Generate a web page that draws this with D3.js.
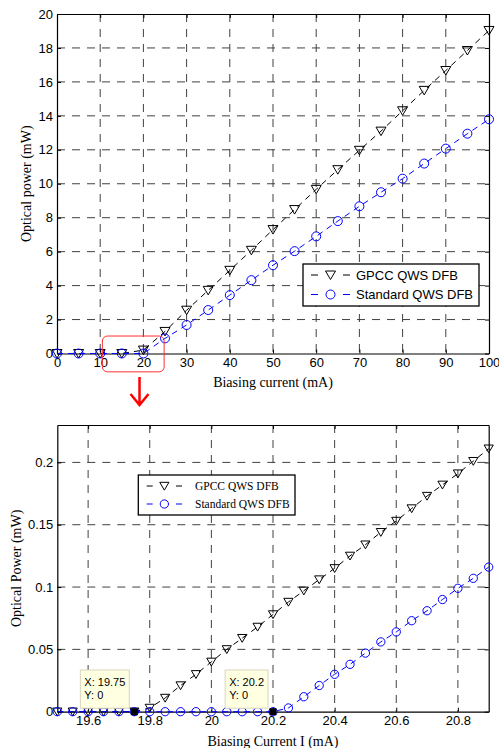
<!DOCTYPE html>
<meta charset="utf-8">
<style>
body { margin: 0; background: #fff; }
.tick text { font: 13px "Liberation Sans", Arial, sans-serif; fill: #000; }
.axis path, .axis line { stroke: #000; }
.grid line { stroke: #404040; stroke-dasharray: 8,7; }
</style>
<svg width="499" height="748"></svg>
<script src="https://d3js.org/d3.v7.min.js"></script>
<script>
// top panel: 0..100 mA
var topCurrent = [0, 5, 10, 15, 20, 25, 30, 35, 40, 45, 50, 55, 60, 65, 70, 75, 80, 85, 90, 95, 100];
var topGpcc = [0, 0, 0, 0, 0.2, 1.3, 2.55, 3.72, 4.9, 6.08, 7.3, 8.48, 9.67, 10.83, 11.97, 13.1, 14.3, 15.5, 16.67, 17.85, 19.03];
var topStandard = [0, 0, 0, 0, 0, 0.89, 1.68, 2.56, 3.44, 4.32, 5.2, 6.03, 6.9, 7.8, 8.67, 9.5, 10.3, 11.19, 12.07, 12.95, 13.8];
var topXTicks = [0, 10, 20, 30, 40, 50, 60, 70, 80, 90, 100];
var topYTicks = [0, 2, 4, 6, 8, 10, 12, 14, 16, 18, 20];

// bottom panel: zoom on threshold
var botCurrent = [19.5, 19.55, 19.6, 19.65, 19.7, 19.75, 19.8, 19.85, 19.9, 19.95, 20.0, 20.05, 20.1, 20.15, 20.2,
                  20.25, 20.3, 20.35, 20.4, 20.45, 20.5, 20.55, 20.6, 20.65, 20.7, 20.75, 20.8, 20.85, 20.9];
var botGpcc = [0, 0, 0, 0, 0, 0, 0.003, 0.011, 0.021, 0.030, 0.040, 0.050, 0.059, 0.068, 0.078,
               0.088, 0.097, 0.106, 0.115, 0.125, 0.134, 0.144, 0.153, 0.163, 0.173, 0.182, 0.191, 0.201, 0.211];
var botStandard = [0, 0, 0, 0, 0, 0, 0, 0, 0, 0, 0, 0, 0, 0, 0,
                   0.003, 0.012, 0.021, 0.030, 0.038, 0.047, 0.056, 0.064, 0.073, 0.081, 0.090, 0.099, 0.107, 0.116];
var botXTicks = [19.6, 19.8, 20, 20.2, 20.4, 20.6, 20.8];
var botYTicks = [0, 0.05, 0.1, 0.15, 0.2];
var dataTips = [{x: 19.75, y: 0}, {x: 20.2, y: 0}];

var seriesNames = ["GPCC QWS DFB", "Standard QWS DFB"];

var serif = '"Liberation Serif", "Times New Roman", serif';
var svg = d3.select("svg");

function triangle(g, x, y, s) {
  g.append("path")
      .attr("d", "M" + (x - s) + "," + (y - s * 0.8) + "L" + (x + s) + "," + (y - s * 0.8) + "L" + x + "," + (y + s * 0.9) + "Z")
      .attr("fill", "none")
      .attr("stroke", "#000");
}

function circle(g, x, y, r) {
  g.append("circle")
      .attr("cx", x).attr("cy", y).attr("r", r)
      .attr("fill", "none")
      .attr("stroke", "#0000ff");
}

function panel(cfg) {
  var x = d3.scaleLinear().domain(cfg.xDomain).range([cfg.left, cfg.right]);
  var y = d3.scaleLinear().domain(cfg.yDomain).range([cfg.bottom, cfg.top]);
  var g = svg.append("g");

  // grid
  var grid = g.append("g").attr("class", "grid");
  grid.selectAll(".v").data(cfg.xTicks.filter(function(d) { return d > cfg.xDomain[0] && d < cfg.xDomain[1]; }))
    .enter().append("line")
      .attr("x1", function(d) { return x(d); }).attr("x2", function(d) { return x(d); })
      .attr("y1", cfg.top).attr("y2", cfg.bottom);
  grid.selectAll(".h").data(cfg.yTicks.filter(function(d) { return d > cfg.yDomain[0] && d < cfg.yDomain[1]; }))
    .enter().append("line")
      .attr("x1", cfg.left).attr("x2", cfg.right)
      .attr("y1", function(d) { return y(d); }).attr("y2", function(d) { return y(d); });

  // axes, ticks inside on all four sides
  g.append("g").attr("class", "axis")
      .attr("transform", "translate(0," + cfg.bottom + ")")
      .call(d3.axisBottom(x).tickValues(cfg.xTicks).tickFormat(cfg.xFormat).tickSizeInner(-4).tickSizeOuter(0).tickPadding(4.5));
  g.append("g").attr("class", "axis")
      .attr("transform", "translate(" + cfg.left + ",0)")
      .call(d3.axisLeft(y).tickValues(cfg.yTicks).tickFormat(cfg.yFormat).tickSizeInner(-4).tickSizeOuter(0).tickPadding(4));
  g.append("g").attr("class", "axis")
      .attr("transform", "translate(0," + cfg.top + ")")
      .call(d3.axisTop(x).tickValues(cfg.xTicks).tickFormat("").tickSizeInner(-4).tickSizeOuter(0));
  g.append("g").attr("class", "axis")
      .attr("transform", "translate(" + cfg.right + ",0)")
      .call(d3.axisRight(y).tickValues(cfg.yTicks).tickFormat("").tickSizeInner(-4).tickSizeOuter(0));
  g.selectAll(".domain").attr("stroke-width", 1.2);

  // series
  var line = d3.line().x(function(d) { return x(d[0]); }).y(function(d) { return y(d[1]); });
  var gp = d3.zip(cfg.current, cfg.gpcc);
  var st = d3.zip(cfg.current, cfg.standard);
  g.append("path").datum(gp).attr("d", line)
      .attr("fill", "none").attr("stroke", "#000").attr("stroke-dasharray", "6,5");
  var mk = g.append("g");
  gp.forEach(function(d) { triangle(mk, x(d[0]), y(d[1]), cfg.ms); });
  g.append("path").datum(st).attr("d", line)
      .attr("fill", "none").attr("stroke", "#0000ff").attr("stroke-dasharray", "6,5");
  var mk2 = g.append("g");
  st.forEach(function(d) { circle(mk2, x(d[0]), y(d[1]), cfg.ms * 0.9); });

  // legend
  var L = cfg.legend;
  var lg = g.append("g");
  lg.append("rect").attr("x", L.x).attr("y", L.y).attr("width", L.w).attr("height", L.h)
      .attr("fill", "#fff").attr("stroke", "#000").attr("stroke-width", 1.3);
  seriesNames.forEach(function(name, i) {
    var cy = L.rows[i];
    var col = i === 0 ? "#000" : "#0000ff";
    lg.append("line").attr("x1", L.lx1).attr("x2", L.lx2).attr("y1", cy).attr("y2", cy)
        .attr("stroke", col).attr("stroke-dasharray", L.dash);
    var mx = (L.lx1 + L.lx2) / 2;
    if (i === 0) triangle(lg, mx, cy, cfg.ms); else circle(lg, mx, cy, cfg.ms * 0.9);
    lg.append("text").attr("x", L.tx).attr("y", cy).attr("dy", "0.35em")
        .style("font", L.font).attr("fill", "#000").text(name);
  });

  // axis labels
  g.append("text")
      .attr("x", (cfg.left + cfg.right) / 2).attr("y", cfg.xLabelY)
      .attr("text-anchor", "middle")
      .style("font-family", serif).style("font-size", "14px").attr("fill", "#000")
      .text(cfg.xLabel);
  g.append("text")
      .attr("transform", "translate(" + cfg.yLabelX + "," + (cfg.top + cfg.bottom) / 2 + ") rotate(-90)")
      .attr("text-anchor", "middle").attr("dy", "0.35em")
      .style("font-family", serif).style("font-size", "14px").attr("fill", "#000")
      .text(cfg.yLabel);

  return {x: x, y: y, g: g};
}

var topPanel = panel({
  left: 57, right: 489, top: 14, bottom: 353.5,
  xDomain: [0, 100], yDomain: [0, 20],
  xTicks: topXTicks, yTicks: topYTicks,
  xFormat: d3.format("d"), yFormat: d3.format("d"),
  current: topCurrent, gpcc: topGpcc, standard: topStandard,
  ms: 5,
  legend: {x: 303, y: 264, w: 176, h: 42, rows: [275, 294.5], lx1: 311, lx2: 350, tx: 356,
           dash: "7,25,7", font: '13px "Liberation Sans", Arial, sans-serif'},
  xLabel: "Biasing current (mA)", xLabelY: 387,
  yLabel: "Optical power (mW)", yLabelX: 26
});

var botPanel = panel({
  left: 57.3, right: 488.7, top: 425, bottom: 711.7,
  xDomain: [19.5, 20.9], yDomain: [0, 0.23],
  xTicks: botXTicks, yTicks: botYTicks,
  xFormat: function(d) { return String(+d.toFixed(2)); },
  yFormat: function(d) { return String(+d.toFixed(2)); },
  current: botCurrent, gpcc: botGpcc, standard: botStandard,
  ms: 4.6,
  legend: {x: 138.3, y: 475, w: 156.7, h: 40, rows: [486, 504], lx1: 146.7, lx2: 182, tx: 195,
           dash: "6,23.3,6", font: '11.5px "Liberation Serif", "Times New Roman", serif'},
  xLabel: "Biasing Current I (mA)", xLabelY: 746,
  yLabel: "Optical Power (mW)", yLabelX: 16
});

// zoom annotation on the top panel
var tx = topPanel.x, ty = topPanel.y;
svg.append("rect")
    .attr("x", tx(10.5)).attr("y", ty(1.03))
    .attr("width", tx(24.8) - tx(10.5)).attr("height", ty(-1.08) - ty(1.03))
    .attr("rx", 5).attr("fill", "none").attr("stroke", "#ff3030").attr("stroke-width", 1);
var ax = tx(19.1);
svg.append("path")
    .attr("d", "M" + ax + ",377L" + ax + ",404M" + (ax - 9) + ",394L" + ax + ",405L" + (ax + 9) + ",394")
    .attr("fill", "none").attr("stroke", "#ff0000").attr("stroke-width", 2.5);

// data tips on the bottom panel
var bx = botPanel.x, by = botPanel.y;
dataTips.forEach(function(d) {
  var px = bx(d.x), py = by(d.y);
  var tip = svg.append("g");
  var box = tip.append("rect").attr("fill", "#ffffe1").attr("stroke", "#d8d5c0");
  var t1 = tip.append("text").attr("y", 681.7).attr("dy", "0.35em")
      .style("font", '11px "Liberation Sans", Arial, sans-serif').text("X: " + d.x);
  var t2 = tip.append("text").attr("y", 695).attr("dy", "0.35em")
      .style("font", '11px "Liberation Sans", Arial, sans-serif').text("Y: " + d.y);
  var w = Math.max(t1.node().getComputedTextLength(), t2.node().getComputedTextLength()) + 8;
  var x0 = px - 5 - w;
  box.attr("x", x0).attr("y", 670).attr("width", w).attr("height", py - 3.5 - 670);
  t1.attr("x", x0 + 4);
  t2.attr("x", x0 + 4);
  tip.append("rect").attr("x", px - 3.5).attr("y", py - 3.5).attr("width", 7).attr("height", 7).attr("fill", "#000");
});
</script>
